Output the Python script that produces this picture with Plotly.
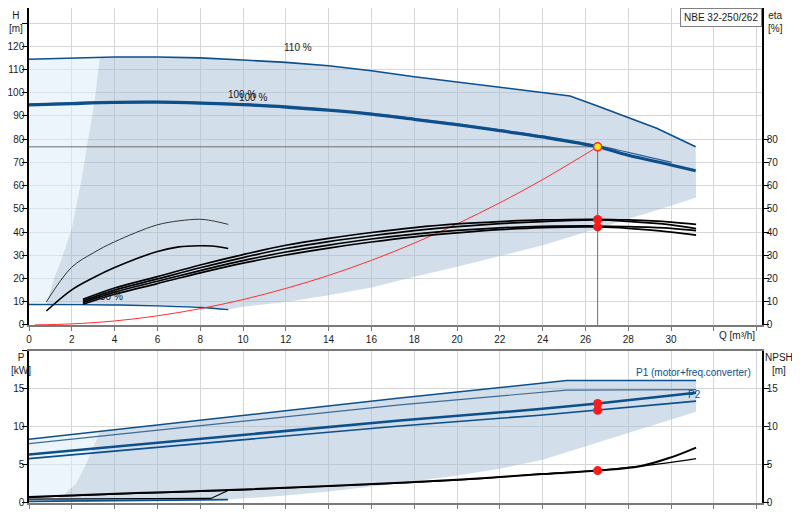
import plotly.graph_objects as go

# ---- top chart: head H [m] against flow Q [m3/h] ----
q_110 = [0, 2, 3.31, 4, 6, 8, 10, 12, 14, 16, 18, 20, 22, 24, 25.28, 26.5, 27.93, 29.33, 31.15]
h_110 = [114.4, 114.8, 115.2, 115.4, 115.4, 115.0, 114.1, 113.1, 111.6, 109.5, 106.9, 104.7, 102.3, 100.2, 98.6, 94.5, 89.7, 84.7, 76.7]

q_100 = [0, 2, 4, 6, 8, 10, 12, 14, 16, 18, 20, 22, 24, 26.57, 28, 30, 31.15]
h_100 = [94.7, 95.3, 95.8, 95.9, 95.5, 94.8, 93.8, 92.4, 90.7, 88.5, 86.2, 83.6, 80.9, 76.7, 73.1, 68.9, 66.4]

q_100b = [0, 2, 4, 6, 8, 10, 12, 14, 16, 18, 20, 22, 24, 26.57, 28, 30.03]
h_100b = [95.2, 95.8, 96.3, 96.4, 96.0, 95.3, 94.3, 92.9, 91.2, 89.0, 86.7, 84.1, 81.4, 77.2, 74.3, 70.0]

q_30 = [0, 2, 4, 6, 8, 9.31]
h_30 = [8.8, 8.75, 8.6, 8.2, 7.5, 6.6]

# edge between the light and the shaded area, and lower edge of the shaded area
q_edge = [3.31, 3.04, 2.71, 2.45, 1.98, 1.5, 1.2, 0.81]
h_edge = [115.2, 94.7, 77.0, 62.4, 40.8, 28.0, 20.7, 8.95]
q_low = [9.31, 10, 12, 14, 16, 18, 20, 22, 24, 26, 28, 30, 31.17]
h_low = [6.6, 7.8, 9.9, 12.8, 16.1, 20.7, 25.0, 29.6, 34.3, 39.9, 45.5, 51.3, 54.9]

# system curve
q_sys = [0.27, 2, 4, 6, 8, 10, 12, 14, 16, 18, 20, 22, 24, 26.57]
h_sys = [0, 0.43, 1.7, 3.9, 7.0, 10.9, 15.7, 21.3, 27.8, 35.2, 43.5, 52.6, 62.6, 76.7]

# efficiency eta [%]
q_eta_s = [0.81, 1.98, 3.0, 4.0, 5.96, 7.0, 7.98, 8.53, 9.31]
eta_thin = [9.9, 24.7, 31.0, 35.8, 43.0, 44.8, 45.5, 44.9, 43.3]
eta_med = [6.0, 15.0, 20.3, 24.7, 31.5, 33.6, 34.1, 34.0, 32.9]

q_eta = [2.52, 4, 6, 8, 10, 12, 14, 16, 18, 20, 22, 24, 26.57, 28, 30, 31.17]
eta_a = [11.0, 15.9, 20.8, 25.8, 30.3, 34.3, 37.3, 39.8, 41.9, 43.5, 44.5, 45.2, 45.5, 45.2, 44.3, 43.3]
eta_b = [10.3, 15.0, 19.8, 24.6, 29.0, 32.9, 35.9, 38.4, 40.6, 42.3, 43.6, 44.5, 45.2, 44.6, 43.1, 41.5]
eta_c = [9.6, 14.1, 18.8, 23.4, 27.7, 31.4, 34.4, 37.0, 39.1, 40.7, 41.8, 42.4, 42.6, 42.3, 41.6, 40.6]
eta_d = [8.9, 13.2, 17.8, 22.4, 26.6, 30.1, 33.1, 35.7, 37.9, 39.6, 41.0, 41.9, 42.2, 41.6, 40.0, 38.7]

# duty point
q_duty = 26.57
h_duty = 76.7
eta_duty = [45.4, 42.2]

# ---- bottom chart: power P [kW] and NPSH [m] ----
q_p110 = [0, 3.3, 17.33, 25.12, 31.17]
p1_110 = [8.38, 9.4, 13.8, 16.1, 16.1]
q_p2_110 = [0, 17.33, 25.12, 31.17]
p2_110 = [7.8, 12.9, 14.85, 14.9]

q_p100 = [0, 17.33, 23.87, 26.57, 31.17]
p1_100 = [6.37, 10.84, 12.35, 13.08, 14.5]
p2_100 = [5.84, 10.13, 11.54, 12.2, 13.4]

q_p30 = [0, 1.0, 9.3]
p_30 = [0.22, 0.25, 0.45]

q_pedge = [3.3, 3.15, 2.68, 2.2, 1.59, 1.0]
p_edge = [9.4, 8.25, 5.2, 2.55, 1.0, 0.25]
q_plow = [9.3, 12, 14, 17.33, 20, 22, 24, 26.06, 28, 31.17]
p_low = [0.45, 1.0, 1.5, 2.6, 3.6, 4.5, 5.7, 7.46, 9.2, 12.0]

q_npsh = [0, 5, 10, 14, 17.33, 20, 22, 24, 26.57, 28.55, 30, 31.17]
npsh_1 = [0.8, 1.3, 1.78, 2.25, 2.65, 3.05, 3.42, 3.8, 4.26, 4.83, 6.0, 7.29]
npsh_2 = [0.75, 1.25, 1.72, 2.2, 2.6, 3.0, 3.4, 3.85, 4.3, 4.85, 5.35, 5.84]
q_npsh30 = [0, 8.5, 9.3]
npsh_30 = [0.5, 0.6, 1.65]

p_duty = [13.08, 12.2]
npsh_duty = 4.26

BLUE = '#0b4f8c'
LIGHT = 'rgba(222,236,250,0.55)'
SHADE = 'rgba(160,186,212,0.48)'
FONT = 'Liberation Sans'

fig = go.Figure()


def area(xs, ys, color, xa='x', ya='y'):
    fig.add_trace(go.Scatter(x=xs, y=ys, fill='toself', fillcolor=color, mode='lines',
                             line=dict(width=0), xaxis=xa, yaxis=ya, hoverinfo='skip'))


def curve(xs, ys, color, width, xa='x', ya='y', shape='spline'):
    fig.add_trace(go.Scatter(x=xs, y=ys, mode='lines', xaxis=xa, yaxis=ya,
                             line=dict(color=color, width=width, shape=shape)))


def dots(xs, ys, xa, ya, color='#ff1a1a', size=9, edge=None):
    fig.add_trace(go.Scatter(x=xs, y=ys, mode='markers', xaxis=xa, yaxis=ya,
                             marker=dict(color=color, size=size,
                                         line=dict(color=edge or color, width=1.5 if edge else 0))))


# shaded areas, top
i0 = q_110.index(3.31)
area([0] + q_110[:i0 + 1] + q_edge[1:] + q_30[::-1],
     [h_30[0]] + h_110[:i0 + 1] + h_edge[1:] + h_30[::-1], LIGHT)
area(q_110[i0:] + [q_low[-1]] + q_low[::-1] + q_30[::-1][:-1] + [q_edge[-1]] + q_edge[::-1],
     h_110[i0:] + [h_low[-1]] + h_low[::-1] + h_30[::-1][:-1] + [h_edge[-1]] + h_edge[::-1], SHADE)

# shaded areas, bottom
area([0] + q_p110[:2] + q_pedge[1:] + [0],
     [p_30[0]] + p1_110[:2] + p_edge[1:] + [p_30[0]], LIGHT, 'x2', 'y2')
area(q_p110[1:] + q_plow[::-1] + [q_pedge[-1]] + q_pedge[::-1],
     p1_110[1:] + p_low[::-1] + [p_edge[-1]] + p_edge[::-1], SHADE, 'x2', 'y2')

# duty lines
fig.add_trace(go.Scatter(x=[0, q_duty, q_duty], y=[h_duty, h_duty, 0], mode='lines',
                         line=dict(color='#6e6e6e', width=1)))

# head curves
curve(q_110, h_110, BLUE, 1.6, shape='linear')
curve(q_100b, h_100b, '#33628f', 1.2)
curve(q_100, h_100, BLUE, 3)
curve(q_30, h_30, BLUE, 1.4)
curve(q_sys, h_sys, '#ff3030', 1)

# efficiency curves
curve(q_eta_s, eta_thin, '#333333', 1, ya='y3')
curve(q_eta_s, eta_med, '#000000', 1.6, ya='y3')
for e in (eta_a, eta_b, eta_c, eta_d):
    curve(q_eta, e, '#000000', 1.7, ya='y3')

dots([q_duty] * 2, eta_duty, 'x', 'y3')
dots([q_duty], [h_duty], 'x', 'y', color='#ffee00', size=8, edge='#ff2020')

# power curves
curve(q_p110, p1_110, BLUE, 1.4, 'x2', 'y2', 'linear')
curve(q_p2_110, p2_110, '#3d6a96', 1.2, 'x2', 'y2', 'linear')
curve(q_p100, p1_100, BLUE, 2.6, 'x2', 'y2', 'linear')
curve(q_p100, p2_100, BLUE, 1.6, 'x2', 'y2', 'linear')
curve(q_p30, p_30, BLUE, 1.6, 'x2', 'y2', 'linear')
dots([q_duty] * 2, p_duty, 'x2', 'y2')

# NPSH
curve(q_npsh, npsh_2, '#000000', 1.2, 'x2', 'y4')
curve(q_npsh, npsh_1, '#000000', 2, 'x2', 'y4')
curve(q_npsh30, npsh_30, '#000000', 1.2, 'x2', 'y4', 'linear')
dots([q_duty], [npsh_duty], 'x2', 'y4')

# the page body adds 8 px on the left and top, so the figure is 792x512
# and the top of the H axis is cut where the window begins
grid = '#d6d6d6'
xticks = list(range(0, 35, 2))
xaxis_common = dict(range=[0, 34.25], tickvals=xticks, showgrid=True, gridcolor=grid,
                    zeroline=False, showline=True, linecolor='#7a7a7a', linewidth=2,
                    mirror=True, ticks='outside', ticklen=4, tickcolor='#7a7a7a',
                    automargin=False)
yaxis_common = dict(showgrid=True, gridcolor=grid, gridwidth=1, zeroline=False,
                    showline=True, linecolor='#000000', linewidth=1.5,
                    ticks='outside', ticklen=5, tickcolor='#000000', automargin=False,
                    ticklabelstandoff=-4)

fig.update_layout(
    width=792, height=512,
    margin=dict(l=21, r=38, t=0, b=17.3, autoexpand=False),
    paper_bgcolor='white', plot_bgcolor='white',
    showlegend=False,
    font=dict(family=FONT, size=10, color='#1a1a1a'),
    xaxis=dict(xaxis_common, domain=[0, 1], anchor='y',
               ticktext=[str(v) if v <= 30 else '' for v in xticks]),
    xaxis2=dict(xaxis_common, domain=[0, 1], anchor='y2', showticklabels=False),
    yaxis=dict(yaxis_common, domain=[0.3598, 1], anchor='x', range=[0, 136.5],
               tickvals=list(range(0, 140, 10)),
               ticktext=[str(v) if v <= 120 else '' for v in range(0, 140, 10)]),
    yaxis3=dict(yaxis_common, overlaying='y', side='right', anchor='x', range=[0, 136.5],
                tickvals=list(range(0, 90, 10)), showgrid=False),
    yaxis2=dict(yaxis_common, domain=[0, 0.3073], anchor='x2', range=[0, 20],
                tickvals=[0, 5, 10, 15, 20], ticktext=['0', '5', '10', '15', '']),
    yaxis4=dict(yaxis_common, overlaying='y2', side='right', anchor='x2', range=[0, 20],
                tickvals=[0, 5, 10, 15], showgrid=False),
)

notes = [
    dict(text='H<br>[m]', x=-0.0184, y=1.0, xref='paper', yref='paper', xanchor='center', yanchor='top'),
    dict(text='eta<br>[%]', x=1.005, y=1.0, xref='paper', yref='paper', xanchor='left', yanchor='top'),
    dict(text='P<br>[kW]', x=-0.0279, y=0.3087, xref='paper', yref='paper', xanchor='left', yanchor='top'),
    dict(text='NPSH<br>[m]', x=1.0235, y=0.3087, xref='paper', yref='paper', xanchor='center', yanchor='top'),
    dict(text='Q [m³/h]', x=0.993, y=0.339, xref='paper', yref='paper', xanchor='right', yanchor='middle'),
    dict(text='NBE 32-250/262', x=1.0, y=1.0, xref='paper', yref='paper', xanchor='right', yanchor='top',
         bordercolor='#808080', borderwidth=1, borderpad=3, bgcolor='white'),
    dict(text='110 %', x=12.56, y=119.3, xref='x', yref='y'),
    dict(text='100 %', x=9.95, y=99.4, xref='x', yref='y'),
    dict(text='100 %', x=10.46, y=98.1, xref='x', yref='y'),
    dict(text='30 %', x=3.87, y=12.4, xref='x', yref='y'),
    dict(text='P1 (motor+freq.converter)', x=33.83, y=17.2, xref='x2', yref='y2',
         xanchor='right', font=dict(color=BLUE)),
    dict(text='P2', x=31.1, y=14.3, xref='x2', yref='y2', font=dict(color=BLUE)),
]
for n in notes:
    fig.add_annotation(showarrow=False, **n)

fig.write_html("out.html")
